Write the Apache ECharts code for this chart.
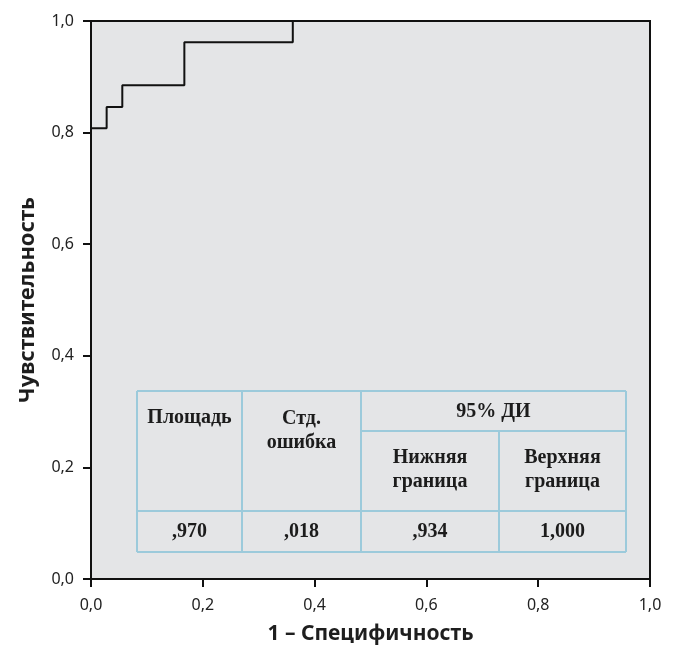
<!DOCTYPE html>
<html><head><meta charset="utf-8">
<script src="https://cdn.jsdelivr.net/npm/echarts@6/dist/echarts.min.js"></script>
<style>html,body{margin:0;padding:0;background:#fff}#c{width:673px;height:645px}</style>
</head><body><div id="c"></div>
<script>
// ROC curve points (1 - specificity, sensitivity)
var fpr = [0, 0, 0.028, 0.028, 0.056, 0.056, 0.167, 0.167, 0.361, 0.361, 1];
var tpr = [0, 0.808, 0.808, 0.846, 0.846, 0.885, 0.885, 0.962, 0.962, 1, 1];
var tickLabels = ['0,0', '0,2', '0,4', '0,6', '0,8', '1,0'];
var tableHeader = ['Площадь', 'Стд.\nошибка', '95% ДИ', 'Нижняя\nграница', 'Верхняя\nграница'];
var tableValues = [',970', ',018', ',934', '1,000'];

var chart = echarts.init(document.getElementById('c'));
var fmt = function (v) { return tickLabels[Math.round(v * 5)]; };
var axisCommon = {
  min: 0, max: 1, interval: 0.2,
  axisLine: { show: true, lineStyle: { color: '#111', width: 2 } },
  axisTick: { show: true, length: 8, lineStyle: { color: '#111', width: 2 } },
  splitLine: { show: false },
  nameTextStyle: { fontFamily: 'Noto Sans', fontSize: 21, fontWeight: 'bold', color: '#1e1e1e' }
};
function lab(m) { return { formatter: fmt, fontFamily: 'Noto Sans', fontSize: 16, color: '#222', margin: m }; }

// table geometry in pixels
var cx = [137, 242, 361, 499, 626];
var ry = [391, 431, 511, 552];
var lc = '#9ccadb';
var g = [];
function line(x1, y1, x2, y2) {
  g.push({ type: 'line', shape: { x1: x1, y1: y1, x2: x2, y2: y2 }, style: { stroke: lc, lineWidth: 2 }, z: 10 });
}
line(cx[0], ry[0], cx[4], ry[0]);
line(cx[2], ry[1], cx[4], ry[1]);
line(cx[0], ry[2], cx[4], ry[2]);
line(cx[0], ry[3], cx[4], ry[3]);
for (var i = 0; i < cx.length; i++) {
  if (i === 3) line(cx[i], ry[1], cx[i], ry[3]); else line(cx[i], ry[0], cx[i], ry[3]);
}
function txt(x, y, s) {
  g.push({ type: 'text', x: x, y: y, z: 11, style: { text: s, fill: '#1c1c1c', font: 'bold 20px "Liberation Serif"', align: 'center', verticalAlign: 'middle', lineHeight: 24 } });
}
txt((cx[0] + cx[1]) / 2, 418, tableHeader[0]);
txt((cx[1] + cx[2]) / 2, 431, tableHeader[1]);
txt((cx[2] + cx[4]) / 2, 412, tableHeader[2]);
txt((cx[2] + cx[3]) / 2, 470, tableHeader[3]);
txt((cx[3] + cx[4]) / 2, 470, tableHeader[4]);
for (var j = 0; j < 4; j++) txt((cx[j] + cx[j + 1]) / 2, 532, tableValues[j]);

chart.setOption({
  animation: false,
  grid: { left: 91, right: 23, top: 21, bottom: 66, outerBoundsMode: 'none', containLabel: false, show: true, backgroundColor: '#e4e5e7', borderColor: '#111', borderWidth: 2 },
  xAxis: Object.assign({}, axisCommon, { type: 'value', name: '1 – Специфичность', nameLocation: 'middle', nameGap: 45, axisLabel: lab(18) }),
  yAxis: Object.assign({}, axisCommon, { type: 'value', name: 'Чувствительность', nameLocation: 'middle', nameGap: 52, axisLabel: lab(17),
    nameTextStyle: { fontFamily: 'Noto Sans', fontSize: 22, fontWeight: 'bold', color: '#1e1e1e' } }),
  series: [{
    type: 'line', showSymbol: false, symbol: 'none',
    data: fpr.map(function (x, i) { return [x, tpr[i]]; }),
    lineStyle: { color: '#111', width: 2 }
  }],
  graphic: g
});
</script></body></html>
